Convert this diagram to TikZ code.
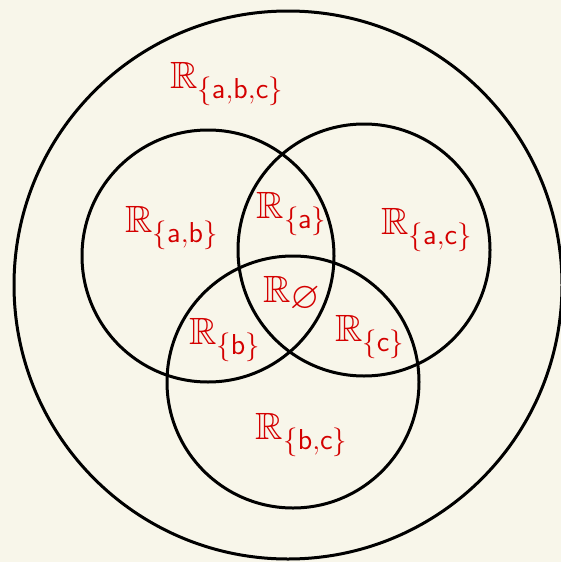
\documentclass[tikz,border=0pt]{standalone}
\usepackage{amssymb}
\definecolor{bg}{HTML}{F8F6EA}
\definecolor{lab}{HTML}{D40000}
\begin{document}
\begin{tikzpicture}[x=0.5pt,y=-0.5pt,
  ring/.style={draw=black,line width=1.5pt},
  lbl/.style={text=lab,font=\fontsize{19}{22}\selectfont,inner sep=0pt}]
\fill[bg] (0,0) rectangle (561,562);
\useasboundingbox (0,0) rectangle (561,562);
\draw[ring] (288,285) circle[radius=274];
\draw[ring] (208,256) circle[radius=126];
\draw[ring] (364,250) circle[radius=126];
\draw[ring] (293,382) circle[radius=126];
\node[lbl] (abc) at (227,84) {$\mathbb{R}_{\{\mathsf{a},\mathsf{b},\mathsf{c}\}}$};
\node[lbl] (ab) at (172,228) {$\mathbb{R}_{\{\mathsf{a},\mathsf{b}\}}$};
\node[lbl] (a) at (292,214) {$\mathbb{R}_{\{\mathsf{a}\}}$};
\node[lbl] (ac) at (427,230) {$\mathbb{R}_{\{\mathsf{a},\mathsf{c}\}}$};
\node[lbl] (e) at (292,294) {$\mathbb{R}\raisebox{-0.15em}{$\varnothing$}$};
\node[lbl] (b) at (225,340) {$\mathbb{R}_{\{\mathsf{b}\}}$};
\node[lbl] (c) at (370,337) {$\mathbb{R}_{\{\mathsf{c}\}}$};
\node[lbl] (bc) at (302,435) {$\mathbb{R}_{\{\mathsf{b},\mathsf{c}\}}$};
\end{tikzpicture}
\end{document}
